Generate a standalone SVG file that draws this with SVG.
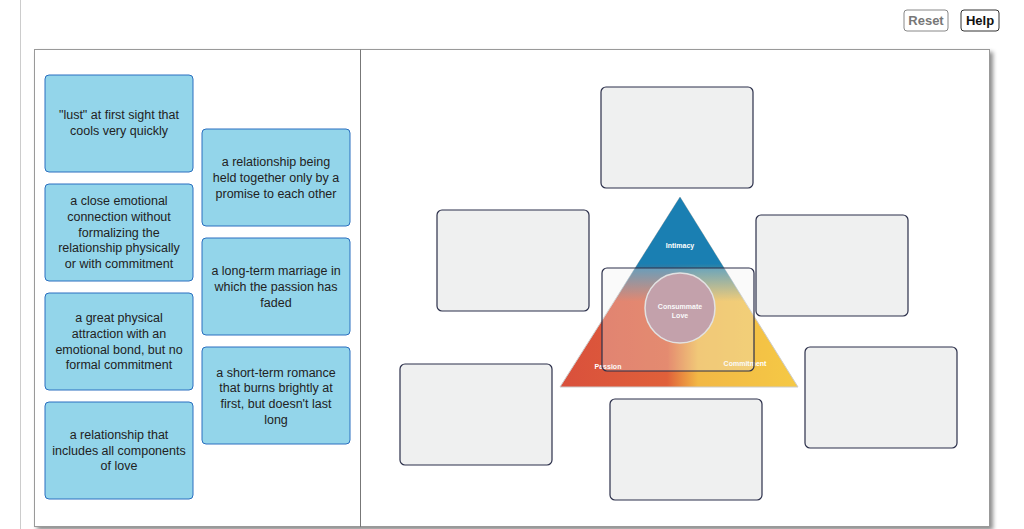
<svg xmlns="http://www.w3.org/2000/svg" width="1024" height="529" viewBox="0 0 1024 529">
<style>
.card{fill:#93d5ea;stroke:#2a6fc0;stroke-width:1}
.ct{font-family:"Liberation Sans",Arial,sans-serif;font-size:12.5px;fill:#222;text-anchor:middle}
.drop{fill:#eff0f0;stroke:#2b2f4a;stroke-width:1.2}
.tl{font-family:"Liberation Sans",Arial,sans-serif;font-size:7px;font-weight:bold;fill:#fff;text-anchor:middle}
.btn{fill:#fff;stroke:#555;rx:3}
</style>
<defs>
<linearGradient id="lg" x1="0" y1="0" x2="1" y2="0">
<stop offset="0" stop-color="#d9503c"/><stop offset="0.45" stop-color="#e0603a"/><stop offset="0.58" stop-color="#f2b845"/><stop offset="1" stop-color="#f5c945"/>
</linearGradient>
<linearGradient id="vg" x1="0" y1="0" x2="0" y2="1">
<stop offset="0" stop-color="#1a7fb2"/><stop offset="0.35" stop-color="#1a7fb2"/><stop offset="0.55" stop-color="#1a7fb2" stop-opacity="0"/><stop offset="1" stop-color="#1a7fb2" stop-opacity="0"/>
</linearGradient>
<filter id="sh" x="-5%" y="-5%" width="110%" height="110%"><feDropShadow dx="3" dy="3" stdDeviation="2" flood-color="#000" flood-opacity="0.45"/></filter>
</defs>
<rect width="1024" height="529" fill="#fff"/>
<line x1="20.5" y1="0" x2="20.5" y2="529" stroke="#ccc"/>
<g id="reset"><rect x="904" y="10" width="44" height="21" rx="3" fill="#fff" stroke="#888"/><text x="926" y="25" font-family="Liberation Sans,Arial,sans-serif" font-size="13" font-weight="bold" fill="#777" text-anchor="middle">Reset</text></g>
<g id="help"><rect x="961" y="10" width="38" height="21" rx="3" fill="#fff" stroke="#333"/><text x="980" y="25" font-family="Liberation Sans,Arial,sans-serif" font-size="13" font-weight="bold" fill="#111" text-anchor="middle">Help</text></g>
<rect x="34.5" y="49.5" width="955" height="477" fill="#fff" stroke="#999" filter="url(#sh)"/>
<line x1="360.5" y1="49.5" x2="360.5" y2="527" stroke="#777"/>
<g id="c1"><rect class="card" x="45" y="75" width="148" height="97" rx="4"/><text class="ct"><tspan x="119" y="119">"lust" at first sight that</tspan><tspan x="119" y="135">cools very quickly</tspan></text></g>
<g id="c2"><rect class="card" x="45" y="184" width="148" height="97" rx="4"/><text class="ct"><tspan x="119" y="205">a close emotional</tspan><tspan x="119" y="221">connection without</tspan><tspan x="119" y="237">formalizing the</tspan><tspan x="119" y="252">relationship physically</tspan><tspan x="119" y="268">or with commitment</tspan></text></g>
<g id="c3"><rect class="card" x="45" y="293" width="148" height="97" rx="4"/><text class="ct"><tspan x="119" y="322">a great physical</tspan><tspan x="119" y="338">attraction with an</tspan><tspan x="119" y="354">emotional bond, but no</tspan><tspan x="119" y="369">formal commitment</tspan></text></g>
<g id="c4"><rect class="card" x="45" y="402" width="148" height="97" rx="4"/><text class="ct"><tspan x="119" y="439">a relationship that</tspan><tspan x="119" y="455">includes all components</tspan><tspan x="119" y="470">of love</tspan></text></g>
<g id="c5"><rect class="card" x="202" y="129" width="148" height="97" rx="4"/><text class="ct"><tspan x="276" y="166">a relationship being</tspan><tspan x="276" y="182">held together only by a</tspan><tspan x="276" y="198">promise to each other</tspan></text></g>
<g id="c6"><rect class="card" x="202" y="238" width="148" height="97" rx="4"/><text class="ct"><tspan x="276" y="275">a long-term marriage in</tspan><tspan x="276" y="291">which the passion has</tspan><tspan x="276" y="307">faded</tspan></text></g>
<g id="c7"><rect class="card" x="202" y="347" width="148" height="97" rx="4"/><text class="ct"><tspan x="276" y="377">a short-term romance</tspan><tspan x="276" y="392">that burns brightly at</tspan><tspan x="276" y="408">first, but doesn't last</tspan><tspan x="276" y="424">long</tspan></text></g>
<g id="triangle">
<polygon points="680,197 560,387 798,387" fill="url(#lg)" stroke="#ccc" stroke-width="1"/>
<polygon points="680,197 560,387 798,387" fill="url(#vg)"/>
<circle cx="680" cy="308" r="35" fill="#b0808f" stroke="#ddd" stroke-width="1.5"/>
<text class="tl" x="680" y="248">Intimacy</text>
<text class="tl" x="680" y="309">Consummate</text><text class="tl" x="680" y="318">Love</text>
<text class="tl" x="608" y="369">Passion</text>
<text class="tl" x="745" y="366">Commitment</text>
</g>
<g id="d1"><rect class="drop" x="601" y="87" width="152" height="101" rx="5"/></g>
<g id="d2"><rect class="drop" x="437" y="210" width="152" height="101" rx="5"/></g>
<g id="d3"><rect class="drop" x="756" y="215" width="152" height="101" rx="5"/></g>
<g id="d4"><rect class="drop" x="602" y="268" width="152" height="103" rx="5" fill-opacity="0.3"/></g>
<g id="d5"><rect class="drop" x="400" y="364" width="152" height="101" rx="5"/></g>
<g id="d6"><rect class="drop" x="610" y="399" width="152" height="101" rx="5"/></g>
<g id="d7"><rect class="drop" x="805" y="347" width="152" height="101" rx="5"/></g>
<g id="connectors"/>
</svg>
